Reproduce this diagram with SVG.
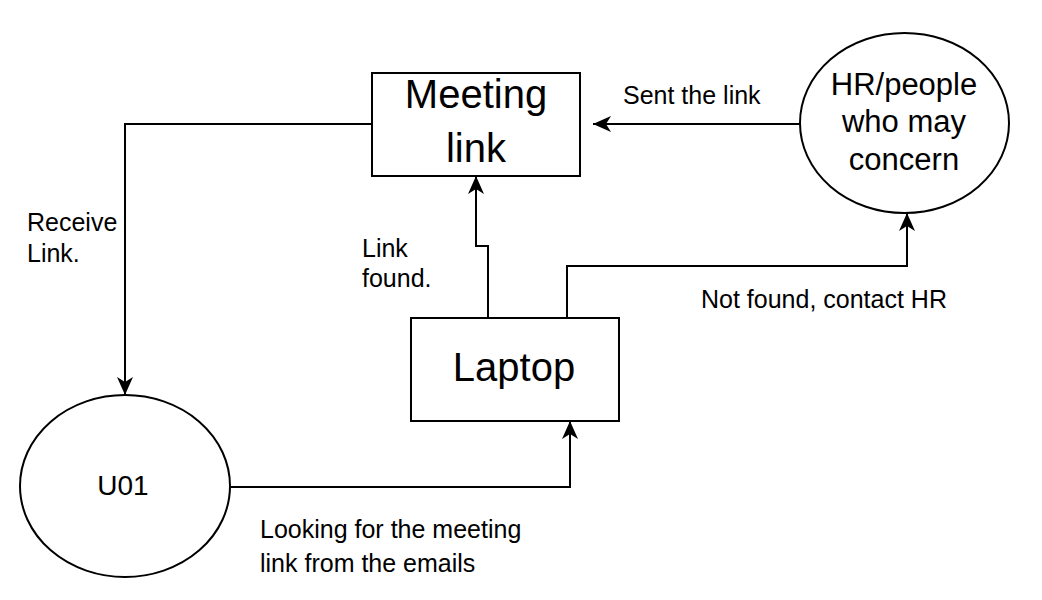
<svg xmlns="http://www.w3.org/2000/svg" width="1042" height="600" viewBox="0 0 1042 600">
<defs>
<marker id="arr" markerUnits="userSpaceOnUse" viewBox="0 0 18 18" refX="18" refY="9" markerWidth="18" markerHeight="18" orient="auto">
<path d="M0,1 L18,9 L0,17 L5,9 Z" fill="#000"/>
</marker>
</defs>
<style>
.shape{fill:#fff;stroke:#000;stroke-width:2}
.edge{fill:none;stroke:#000;stroke-width:2;marker-end:url(#arr)}
text{font-family:"Liberation Sans",Arial,Helvetica,sans-serif;fill:#000}
.big{font-size:40px;text-anchor:middle}
.mid{font-size:31px;text-anchor:middle}
.lbl{font-size:25px}
</style>
<rect width="1042" height="600" fill="#fff"/>
<g id="connectors">
<path class="edge" d="M800,124 L593,124"/>
<path class="edge" d="M372,124 L125,124 L125,395"/>
<path class="edge" d="M230,487 L570,487 L570,421"/>
<path class="edge" d="M488,318 L488,246 L476,246 L476,176"/>
<path class="edge" d="M567,318 L567,266 L907,266 L907,213"/>
</g>
<g id="meeting-link">
<rect class="shape" x="372" y="73" width="208" height="103"/>
<text class="big" x="476" y="108">Meeting</text>
<text class="big" x="476" y="162">link</text>
</g>
<g id="hr">
<ellipse class="shape" cx="904.5" cy="123" rx="104.5" ry="90"/>
<text class="mid" x="904" y="95">HR/people</text>
<text class="mid" x="904" y="132">who may</text>
<text class="mid" x="904" y="170">concern</text>
</g>
<g id="laptop">
<rect class="shape" x="411" y="318" width="208" height="103"/>
<text class="big" x="514" y="381">Laptop</text>
</g>
<g id="u01">
<ellipse class="shape" cx="125" cy="486" rx="105" ry="91"/>
<text x="123" y="495" style="font-size:28px;text-anchor:middle">U01</text>
</g>
<g id="labels">
<text class="lbl" x="623" y="104">Sent the link</text>
<text class="lbl" x="27" y="231">Receive</text>
<text class="lbl" x="27" y="262">Link.</text>
<text class="lbl" x="362" y="257">Link</text>
<text class="lbl" x="362" y="287">found.</text>
<text class="lbl" x="701" y="308">Not found, contact HR</text>
<text class="lbl" x="260" y="538">Looking for the meeting</text>
<text class="lbl" x="260" y="572">link from the emails</text>
</g>
</svg>
